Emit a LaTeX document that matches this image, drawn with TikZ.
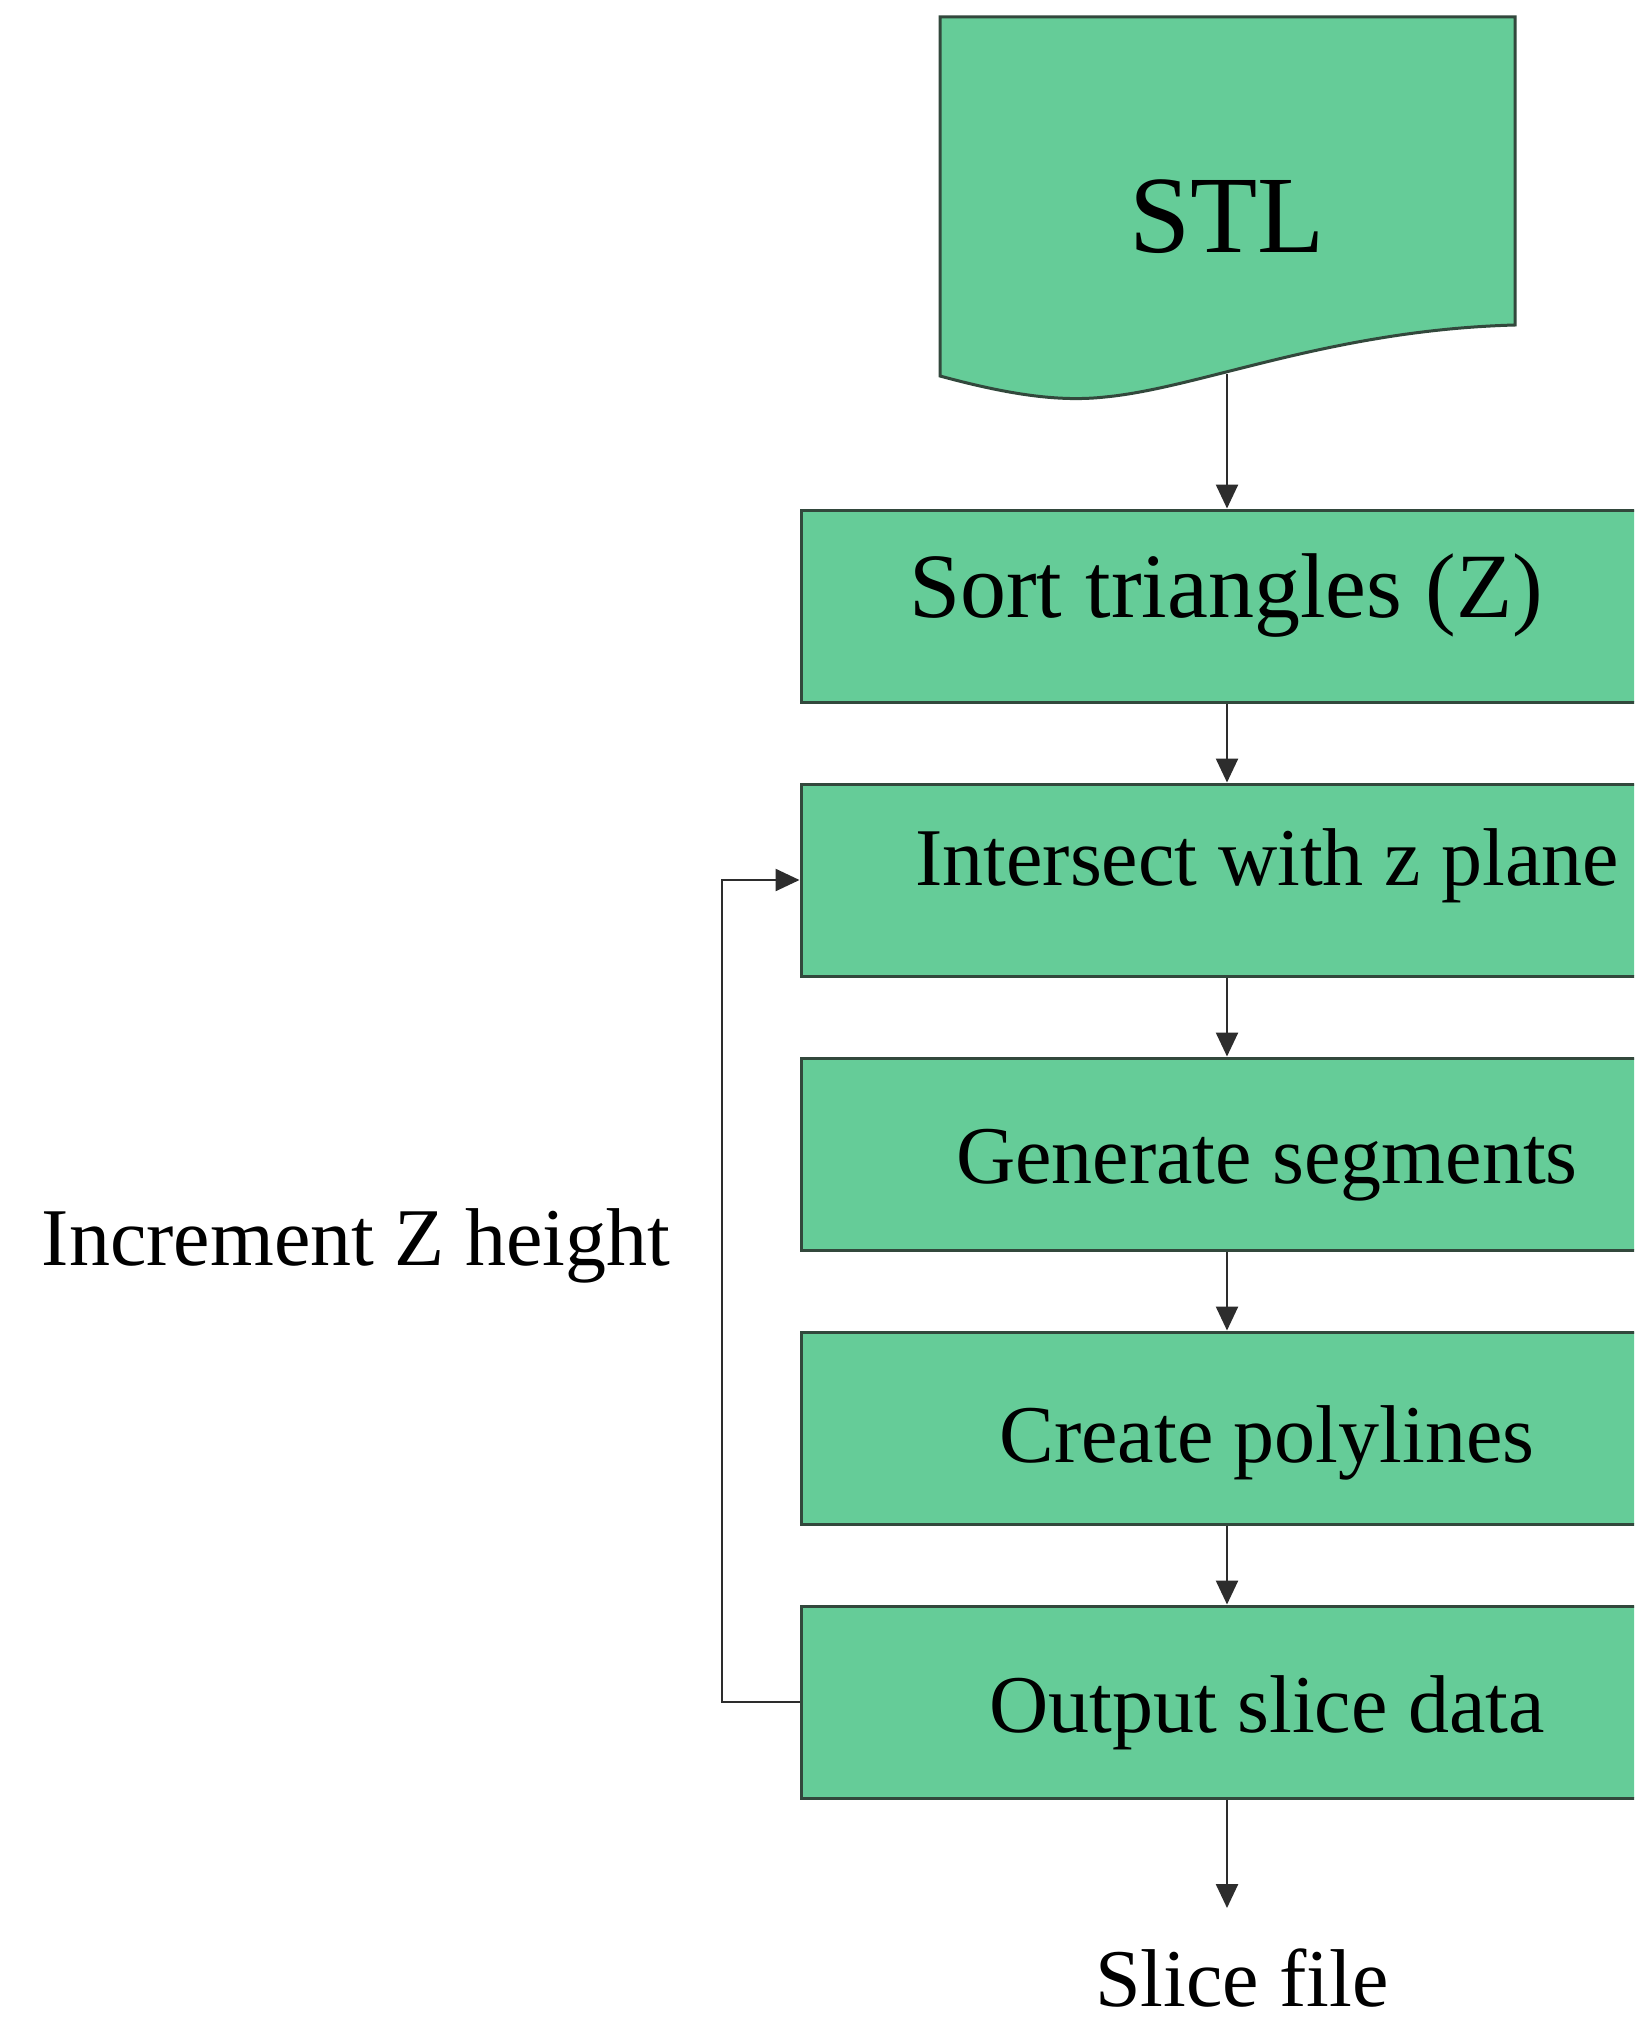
\documentclass[tikz,border=0pt]{standalone}
\usepackage{fontspec}
\setmainfont{Liberation Serif}
\usetikzlibrary{arrows.meta}

\definecolor{boxfill}{RGB}{101,204,152}
\definecolor{boxline}{RGB}{50,72,60}
\definecolor{wire}{RGB}{45,45,45}

\tikzset{
  stepbox/.style={draw=boxline, fill=boxfill, line width=3pt, rectangle,
    minimum width=852pt, minimum height=192pt, inner sep=0pt},
  doc/.style={draw=boxline, fill=boxfill, line width=3pt},
  boxtext/.style={anchor=base, inner sep=0pt,
    font=\fontsize{82pt}{90pt}\selectfont},
  sorttext/.style={boxtext, font=\fontsize{92pt}{100pt}\selectfont},
  stltext/.style={boxtext, font=\fontsize{110pt}{120pt}\selectfont},
  link/.style={draw=wire, line width=2.5pt},
  arr/.style={link, -{Triangle[length=24pt, width=22pt]}},
}

\begin{document}
\begin{tikzpicture}[x=1pt, y=-1pt]
  % page frame
  \clip (0,0) rectangle (1634,2023);
  \fill[white] (0,0) rectangle (1634,2023);

  % STL input document with wavy lower edge
  \draw[doc] (940,17) -- (1515,17) -- (1515,325)
    .. controls (1330,330) and (1200,388) .. (1105,397)
    .. controls (1060,402) and (1010,395) .. (940,376) -- cycle;
  \node[stltext] (stl) at (1227,252) {STL};
  \coordinate (stlbot) at (1227,374);

  % processing steps
  \node[stepbox] (b1) at (1227,606) {};
  \node[stepbox] (b2) at (1227,880) {};
  \node[stepbox] (b3) at (1227,1154) {};
  \node[stepbox] (b4) at (1227,1428) {};
  \node[stepbox] (b5) at (1227,1702) {};

  \node[sorttext] (t1) at (1226,617) {Sort triangles (Z)};
  \node[boxtext] (t2) at (1267,885) {Intersect with z plane};
  \node[boxtext] (t3) at (1267,1183) {Generate segments};
  \node[boxtext] (t4) at (1267,1462) {Create polylines};
  \node[boxtext] (t5) at (1267,1732) {Output slice data};

  % loop label and output label
  \node[boxtext] (inc) at (356,1265) {Increment Z height};
  \node[boxtext] (slice) at (1242,2006) {Slice file};
  \coordinate (loopx) at (722,0);
  \coordinate (sliceend) at (1227,1908);

  % main flow
  \draw[arr] (stlbot) -- (stlbot |- b1.north);
  \draw[arr] (b1.south) -- (b2.north);
  \draw[arr] (b2.south) -- (b3.north);
  \draw[arr] (b3.south) -- (b4.north);
  \draw[arr] (b4.south) -- (b5.north);
  \draw[arr] (b5.south) -- (sliceend);

  % feedback loop to the next layer
  \draw[arr] (b5.west) -- (b5.west -| loopx) -- (b2.west -| loopx) -- (b2.west);
\end{tikzpicture}
\end{document}
